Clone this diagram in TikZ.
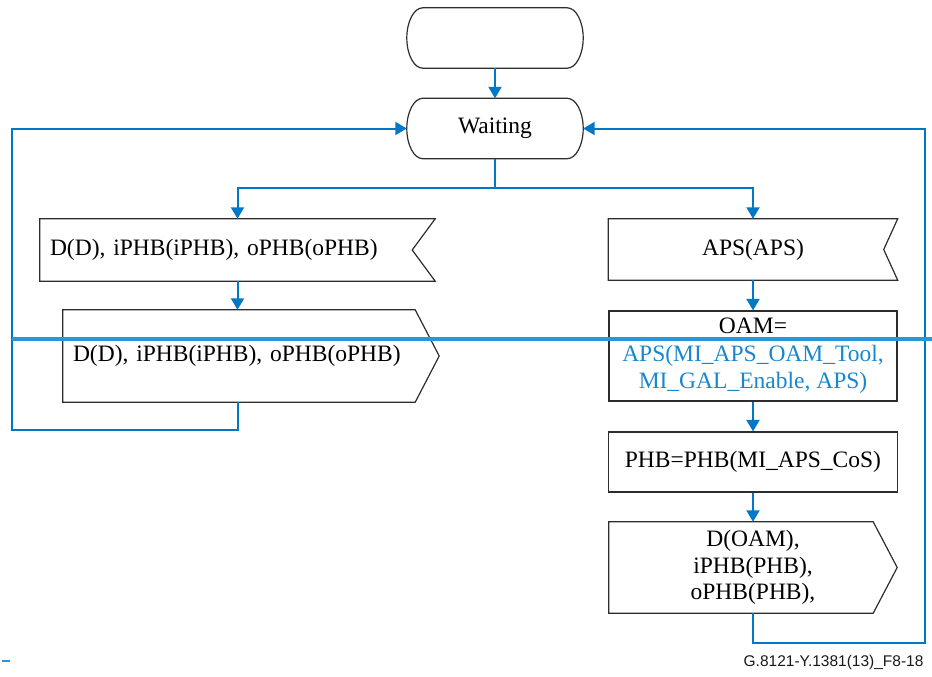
\documentclass[tikz,border=0pt]{standalone}
\usepackage{fontspec}
\setmainfont{Liberation Serif}
\newfontfamily\captionfont{Liberation Sans}
\usepackage{xcolor,tikz}
\definecolor{flowblue}{RGB}{0,120,200}
\definecolor{barblue}{RGB}{40,150,215}
\definecolor{textblue}{RGB}{25,135,205}
\definecolor{boxgray}{RGB}{45,45,45}
\usetikzlibrary{arrows.meta,positioning,calc}
\tikzset{>={Triangle[width=13pt,length=11.5pt]}}
\tikzset{
  state/.style={rectangle, minimum width=176pt, minimum height=60pt, inner sep=0pt},
  task/.style={rectangle, draw=boxgray, line width=1.2pt, inner sep=0pt, align=center},
  sigbox/.style={rectangle, inner sep=0pt, align=center},
  flow/.style={flowblue, line width=2pt},
  outline/.style={boxgray, line width=1.2pt, line join=miter}
}
% outlines drawn round a named node
\newcommand{\stateoutline}[1]{\draw[outline]
 ([xshift=16pt]#1.north west) -- ([xshift=-16pt]#1.north east)
 .. controls ([xshift=-7.2pt]#1.north east) and ([yshift=16.6pt]#1.east) .. (#1.east)
 .. controls ([yshift=-16.6pt]#1.east) and ([xshift=-7.2pt]#1.south east) .. ([xshift=-16pt]#1.south east)
 -- ([xshift=16pt]#1.south west)
 .. controls ([xshift=7.2pt]#1.south west) and ([yshift=-16.6pt]#1.west) .. (#1.west)
 .. controls ([yshift=16.6pt]#1.west) and ([xshift=7.2pt]#1.north west) .. ([xshift=16pt]#1.north west) -- cycle;}
\newcommand{\insig}[2]{\draw[outline] (#1.north west) -- (#1.north east) -- ([xshift=-#2]#1.east) -- (#1.south east) -- (#1.south west) -- cycle;}
\newcommand{\outsig}[2]{\draw[outline] (#1.north west) -- ([xshift=-#2]#1.north east) -- (#1.east) -- ([xshift=-#2]#1.south east) -- (#1.south west) -- cycle;}

\begin{document}
\begin{tikzpicture}[x=1pt,y=-1pt,font=\fontsize{23.5}{27.5}\selectfont]
\useasboundingbox (0,0) rectangle (932,677);
\node[state] (start) at (495,38) {};
\stateoutline{start}
\node[state] (wait) at (495,128.5) {Waiting};
\stateoutline{wait}
% left branch
\node[sigbox, text width=375pt, inner xsep=10pt, minimum height=62pt, align=left] (inL) at (237.5,250) {D(D), iPHB(iPHB), oPHB(oPHB)};
\insig{inL}{23pt}
\node[sigbox, text width=356pt, inner xsep=10pt, minimum height=92pt, align=left] (outL) at (251,356) {D(D), iPHB(iPHB), oPHB(oPHB)};
\outsig{outL}{24pt}
% right branch
\node[sigbox, minimum width=289pt, minimum height=61pt] (inR) at (753,249.5) {APS(APS)};
\insig{inR}{14pt}
\node[task, minimum width=288pt, minimum height=90pt] (oam) at (753,356) {OAM=\\\textcolor{textblue}{APS(MI\_APS\_OAM\_Tool,}\\\textcolor{textblue}{MI\_GAL\_Enable, APS)}};
\node[task, minimum width=289pt, minimum height=60pt] (phb) at (753,462) {PHB=PHB(MI\_APS\_CoS)};
\node[sigbox, minimum width=288pt, minimum height=91pt, font=\fontsize{23.5}{26.5}\selectfont] (outR) at (753,567.5) {D(OAM),\\iPHB(PHB),\\oPHB(PHB),};
\outsig{outR}{24pt}
\coordinate (lback) at (12,430);
\coordinate (rback) at (925,643);
% connectors
\draw[flow,->] (start) -- (wait);
\draw[flow,->] (wait.south) -- ++(0,29.5) -| (inL.north);
\draw[flow,->] (wait.south) -- ++(0,29.5) -| (inR.north);
\draw[flow,->] (inL.south) -- (inL.south |- outL.north);
\draw[flow,->] (inL.south |- outL.south) |- (lback) |- (wait.west);
\draw[flow,->] (inR) -- (oam);
\draw[flow,->] (oam) -- (phb);
\draw[flow,->] (phb) -- (outR);
\draw[flow,->] (outR.south) |- (rback) |- (wait.east);
\draw[barblue, line width=3.5pt] (12,339) -- (932,339);
\draw[barblue, line width=2pt] (2,661) -- (10,661);
\node[anchor=east, font=\captionfont\fontsize{15.5}{18}\selectfont, text=black!90] (fig) at (927,662) {G.8121-Y.1381(13)\_F8-18};
\end{tikzpicture}
\end{document}
